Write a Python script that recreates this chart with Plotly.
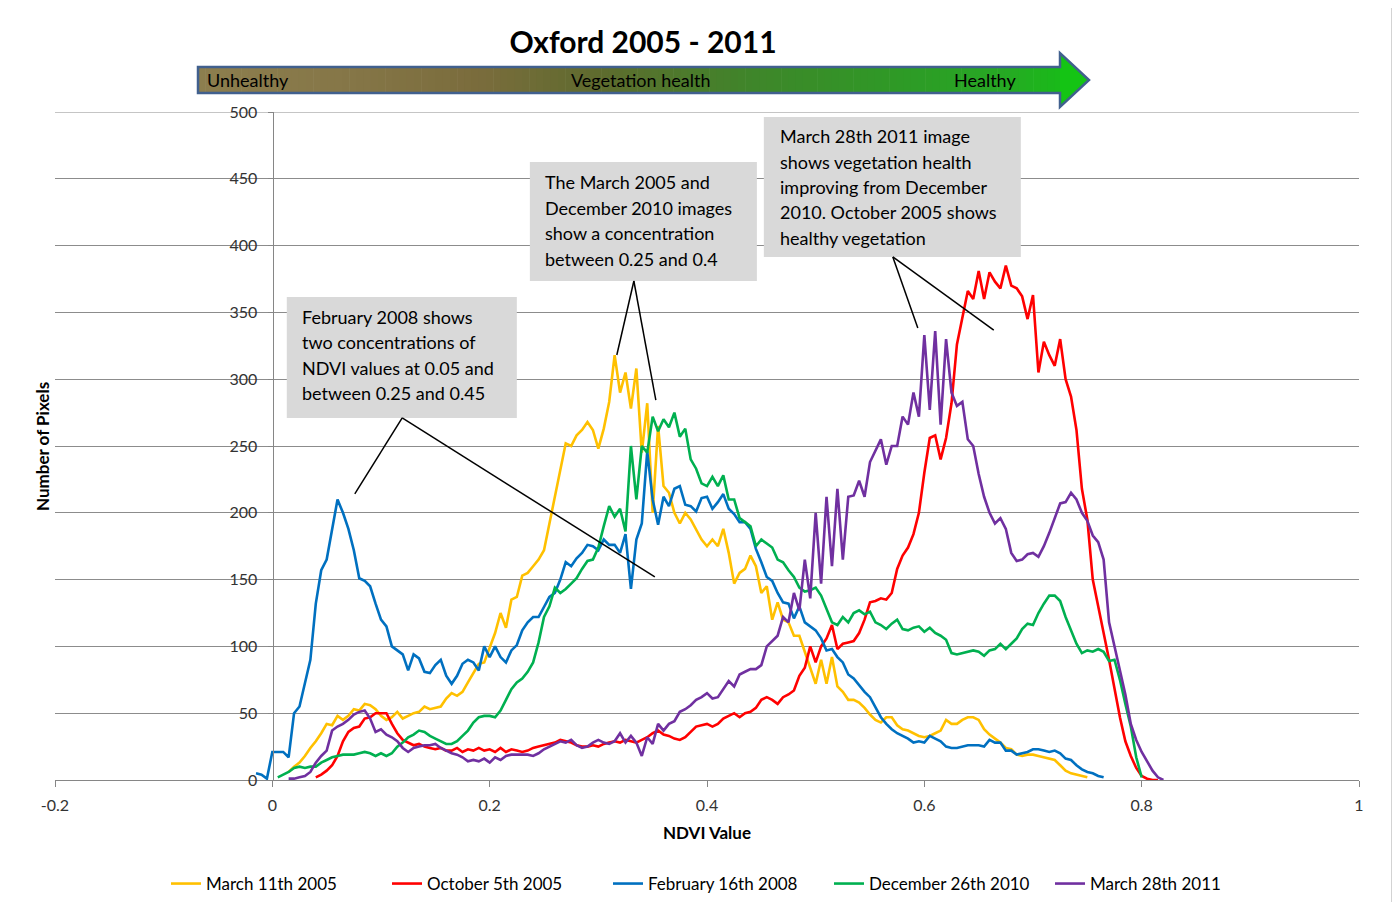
import numpy as np
import plotly.graph_objects as go

STEP = 0.005

# ---------------- data (NDVI histogram counts) ----------------
series_names = ["March 11th 2005", "October 5th 2005", "February 16th 2008",
                "December 26th 2010", "March 28th 2011"]
series_colors = ["#FFC000", "#FF0000", "#0070C0", "#00B050", "#7030A0"]
series_start = [0.015, 0.04, -0.015, 0.005, 0.015]

march_2005 = [6, 10, 13, 18, 24, 29, 35, 42, 41, 48, 45, 48, 53, 52, 57, 56, 53, 48, 45, 47,
              51, 46, 48, 50, 51, 55, 53, 54, 55, 61, 65, 63, 66, 73, 80, 87, 88, 99, 110, 125,
              114, 135, 137, 153, 155, 160, 165, 172, 192, 212, 232, 252, 250, 258, 262, 268, 262, 248, 263, 283,
              318, 290, 305, 278, 308, 245, 282, 200, 265, 220, 215, 200, 192, 200, 195, 187, 180, 175, 180, 175,
              188, 170, 147, 155, 158, 168, 160, 140, 145, 120, 133, 120, 118, 108, 108, 96, 84, 72, 90, 72,
              92, 70, 66, 60, 60, 58, 54, 49, 45, 43, 47, 47, 41, 38, 37, 35, 33, 32, 33, 35,
              37, 45, 42, 42, 45, 47, 47, 45, 38, 34, 31, 28, 24, 23, 19, 18, 19, 19, 18, 17,
              16, 15, 11, 7, 5, 4, 3, 2]

october_2005 = [2, 4, 7, 11, 18, 29, 36, 39, 40, 46, 47, 50, 50, 50, 42, 35, 30, 28, 26, 27,
                25, 24, 23, 24, 22, 22, 24, 21, 23, 22, 24, 22, 23, 21, 24, 21, 23, 22, 21, 22,
                24, 25, 26, 27, 28, 30, 29, 28, 26, 25, 25, 26, 25, 27, 28, 29, 28, 30, 29, 28,
                30, 32, 35, 37, 34, 33, 31, 30, 32, 36, 40, 41, 42, 40, 42, 46, 48, 50, 47, 50,
                51, 54, 60, 62, 60, 57, 62, 64, 67, 78, 84, 100, 88, 100, 106, 116, 98, 102, 103, 104,
                110, 120, 133, 134, 136, 135, 140, 158, 168, 174, 184, 200, 230, 256, 258, 240, 256, 282, 326, 345,
                366, 360, 381, 360, 380, 373, 368, 385, 370, 368, 362, 345, 363, 305, 328, 318, 310, 330, 300, 287,
                262, 218, 195, 150, 131, 110, 90, 68, 47, 29, 18, 9, 3, 1, 0, 0]

february_2008 = [5, 4, 1, 21, 21, 21, 17, 50, 55, 72, 90, 132, 157, 165, 187, 210, 200, 188, 172, 151,
                 149, 145, 132, 120, 115, 100, 97, 94, 82, 94, 91, 81, 80, 86, 90, 78, 72, 78, 87, 90,
                 88, 82, 100, 92, 100, 92, 88, 97, 101, 112, 118, 122, 122, 130, 137, 140, 150, 163, 160, 166,
                 170, 176, 175, 172, 180, 176, 176, 170, 184, 143, 180, 192, 246, 210, 191, 212, 205, 218, 220, 206,
                 205, 201, 211, 212, 203, 208, 214, 203, 199, 193, 193, 188, 173, 163, 152, 149, 140, 133, 132, 121,
                 130, 118, 115, 112, 106, 97, 98, 92, 88, 79, 76, 71, 66, 62, 55, 47, 42, 38, 35, 33,
                 31, 28, 29, 28, 33, 31, 29, 25, 24, 24, 25, 26, 26, 26, 25, 30, 28, 28, 22, 22,
                 19, 20, 21, 23, 23, 22, 21, 22, 20, 16, 15, 11, 8, 6, 5, 3, 2]

december_2010 = [2, 4, 6, 9, 10, 9, 10, 10, 13, 15, 17, 18, 19, 19, 19, 20, 21, 20, 18, 20,
                 18, 20, 25, 28, 32, 34, 37, 36, 33, 31, 29, 27, 27, 29, 33, 37, 43, 47, 48, 48,
                 47, 52, 60, 68, 73, 76, 81, 88, 103, 122, 130, 144, 140, 143, 147, 151, 158, 164, 165, 174,
                 190, 205, 197, 203, 186, 250, 210, 250, 245, 272, 261, 270, 264, 275, 257, 263, 240, 233, 222, 220,
                 227, 220, 228, 210, 210, 196, 193, 190, 175, 180, 177, 174, 165, 163, 157, 152, 144, 141, 142, 144,
                 138, 128, 118, 116, 122, 118, 125, 127, 124, 126, 118, 116, 113, 117, 120, 113, 112, 114, 115, 111,
                 114, 110, 108, 105, 95, 94, 95, 96, 97, 96, 93, 97, 98, 102, 98, 102, 106, 113, 117, 116,
                 125, 132, 138, 138, 134, 122, 112, 102, 95, 97, 96, 98, 96, 89, 90, 75, 57, 40, 17, 2]

march_2011 = [1, 1, 2, 3, 6, 13, 18, 22, 37, 40, 42, 45, 49, 51, 52, 46, 36, 38, 34, 32,
              29, 24, 21, 24, 25, 26, 26, 27, 24, 22, 20, 19, 17, 14, 15, 14, 16, 13, 17, 15,
              18, 19, 19, 19, 19, 18, 20, 23, 25, 27, 29, 28, 30, 26, 24, 25, 28, 30, 28, 27,
              29, 35, 28, 33, 28, 18, 32, 27, 42, 37, 42, 44, 51, 53, 56, 60, 62, 65, 61, 62,
              68, 74, 70, 79, 81, 83, 83, 86, 100, 104, 108, 122, 118, 140, 127, 165, 136, 200, 147, 212,
              160, 218, 165, 212, 213, 224, 212, 238, 247, 255, 236, 250, 250, 272, 266, 290, 272, 333, 277, 336,
              266, 330, 290, 280, 283, 255, 250, 229, 212, 200, 192, 196, 188, 170, 164, 165, 169, 170, 167, 175,
              185, 196, 207, 208, 215, 210, 200, 194, 183, 178, 165, 118, 100, 84, 64, 42, 30, 21, 14, 7,
              2, 0]

series_values = [march_2005, october_2005, february_2008, december_2010, march_2011]

x_ticks = [-0.2, 0, 0.2, 0.4, 0.6, 0.8, 1]
x_tick_text = ["-0.2", "0", "0.2", "0.4", "0.6", "0.8", "1"]
y_ticks = [0, 50, 100, 150, 200, 250, 300, 350, 400, 450, 500]

callout_texts = [
    ["February 2008 shows", "two concentrations of", "NDVI values at 0.05 and", "between 0.25 and 0.45"],
    ["The March 2005 and", "December 2010 images", "show a concentration", "between 0.25 and 0.4"],
    ["March 28th 2011 image", "shows vegetation health", "improving from December",
     "2010. October 2005 shows", "healthy vegetation"],
]

# ---------------- layout geometry ----------------
# Page pixel positions (1400x910 window); the page body has an 8px margin,
# so the figure itself is offset by OFF.
OFF = 8
W, H = 1400 - 2 * OFF, 910 - 2 * OFF
PL, PR, PT, PB = 55, 1359, 112, 780      # plot area in page pixels
FONT = "Lato, 'Open Sans', sans-serif"


def px_x(px):
    return (px - PL) / (PR - PL)


def px_y(py):
    return (PB - py) / (PB - PT)


fig = go.Figure()
for name, color, start, vals in zip(series_names, series_colors, series_start, series_values):
    xs = np.round(start + STEP * np.arange(len(vals)), 4)
    fig.add_trace(go.Scatter(x=xs, y=vals, mode="lines", name=name,
                             line=dict(color=color, width=2.6), hoverinfo="x+y+name"))

shapes = []
annotations = []

# outer chart frame (left, top, right edges)
frame_path = "M %f,%f L %f,%f L %f,%f L %f,%f" % (px_x(5), px_y(902), px_x(5), px_y(7),
                                                  px_x(1392), px_y(7), px_x(1392), px_y(902))
shapes.append(dict(type="path", xref="paper", yref="paper", path=frame_path,
                   line=dict(color="#A6A6A6", width=1), layer="below"))

# top gridline (at the range edge)
shapes.append(dict(type="line", xref="paper", yref="y", x0=0, x1=1, y0=500, y1=500,
                   line=dict(color="#8C8C8C", width=1), layer="below"))

# gradient arrow "Vegetation health"
stops = [(198, (140, 126, 78)), (350, (133, 118, 71)), (480, (122, 108, 60)), (600, (94, 107, 46)),
         (750, (63, 133, 42)), (900, (46, 154, 38)), (1000, (39, 168, 36)), (1062, (25, 186, 25))]
body_l, body_r, body_t, body_b = 198, 1062, 67, 93
n_slices = 120
edges = np.linspace(body_l, body_r, n_slices + 1)
sx = [s[0] for s in stops]
for i in range(n_slices):
    xm = 0.5 * (edges[i] + edges[i + 1])
    rgb = [int(round(np.interp(xm, sx, [s[1][k] for s in stops]))) for k in range(3)]
    shapes.append(dict(type="rect", xref="paper", yref="paper",
                       x0=px_x(edges[i]), x1=px_x(edges[i + 1] + 0.6),
                       y0=px_y(body_b), y1=px_y(body_t),
                       line=dict(width=0), fillcolor="rgb(%d,%d,%d)" % tuple(rgb)))
head = [(1060, 53), (1089, 80), (1060, 107)]
shapes.append(dict(type="path", xref="paper", yref="paper",
                   path="M %f,%f L %f,%f L %f,%f Z" % (px_x(head[0][0]), px_y(head[0][1]),
                                                       px_x(head[1][0]), px_y(head[1][1]),
                                                       px_x(head[2][0]), px_y(head[2][1])),
                   fillcolor="#14C414", line=dict(width=0)))
outline = [(body_l, body_t), (1060, body_t), (1060, 53), (1089, 80), (1060, 107),
           (1060, body_b), (body_l, body_b)]
path = "M " + " L ".join("%f,%f" % (px_x(a), px_y(b)) for a, b in outline) + " Z"
shapes.append(dict(type="path", xref="paper", yref="paper", path=path,
                   line=dict(color="#41608E", width=2.5), fillcolor="rgba(0,0,0,0)"))

for txt, xp, anchor in [("Unhealthy", 205, "left"), ("Vegetation health", 640, "center"),
                        ("Healthy", 985, "center")]:
    annotations.append(dict(text=txt, xref="paper", yref="paper", x=px_x(xp), y=px_y(80),
                            xanchor=anchor, yanchor="middle", showarrow=False,
                            font=dict(family=FONT, size=18, color="#000000")))

# callout boxes (data coordinates)
boxes = [(0.0133, 0.2250, 271, 361.5), (0.2370, 0.4459, 373.5, 462.6), (0.4523, 0.6888, 391.5, 496.3)]
text_left = [0.0253, 0.2489, 0.4652]
text_rows = [[346.6, 327.8, 308.4, 289.7], [447.6, 428.1, 409.4, 390.0],
             [482.0, 462.6, 443.9, 425.1, 405.7]]
for (x0, x1, y0, y1) in boxes:
    shapes.append(dict(type="rect", xref="x", yref="y", x0=x0, x1=x1, y0=y0, y1=y1,
                       fillcolor="#D9D9D9", line=dict(width=0), layer="above"))
for lines, xl, rows in zip(callout_texts, text_left, text_rows):
    for t, yy in zip(lines, rows):
        annotations.append(dict(text=t, xref="x", yref="y", x=xl, y=yy, xanchor="left",
                                yanchor="middle", showarrow=False,
                                font=dict(family=FONT, size=18, color="#000000")))

pointers = [((0.1195, 271), (0.0759, 214.1)), ((0.1195, 271), (0.3520, 152)),
            ((0.3327, 373.5), (0.3170, 318.1)), ((0.3327, 373.5), (0.3529, 284.4)),
            ((0.5710, 391.5), (0.5940, 338.3)), ((0.5710, 391.5), (0.6639, 336.8))]
for (a, b) in pointers:
    shapes.append(dict(type="line", xref="x", yref="y", x0=a[0], y0=a[1], x1=b[0], y1=b[1],
                       line=dict(color="#000000", width=1.5), layer="above"))

# axis titles
annotations.append(dict(text="<b>Number of Pixels</b>", xref="paper", yref="paper",
                        x=px_x(42), y=px_y(447), textangle=-90, showarrow=False,
                        xanchor="center", yanchor="middle",
                        font=dict(family=FONT, size=17, color="#000000")))
annotations.append(dict(text="<b>NDVI Value</b>", xref="paper", yref="paper",
                        x=px_x(707), y=px_y(832), showarrow=False,
                        xanchor="center", yanchor="middle",
                        font=dict(family=FONT, size=17, color="#000000")))

fig.update_layout(
    width=W, height=H,
    margin=dict(l=PL - OFF, r=W - (PR - OFF), t=PT - OFF, b=H - (PB - OFF), autoexpand=False),
    paper_bgcolor="white", plot_bgcolor="white",
    title=dict(text="<b>Oxford 2005 - 2011</b>", x=(643 - OFF) / W, y=1 - (42 - OFF) / H,
               xanchor="center", yanchor="middle",
               font=dict(family=FONT, size=30, color="#000000")),
    font=dict(family=FONT, color="#333333"),
    xaxis=dict(range=[-0.2, 1], tickvals=x_ticks, ticktext=x_tick_text, showgrid=False,
               zeroline=False, showline=True, linecolor="#868686", linewidth=1,
               ticks="outside", ticklen=6, tickcolor="#868686", ticklabelstandoff=5,
               tickfont=dict(family=FONT, size=16, color="#333333")),
    yaxis=dict(range=[0, 500], tickvals=y_ticks, showgrid=True, gridcolor="#8C8C8C", gridwidth=1,
               zeroline=False, showline=True, linecolor="#868686", linewidth=1,
               anchor="free", position=px_x(272.5), automargin=False,
               ticks="outside", ticklen=5, tickcolor="#868686", ticklabelstandoff=7,
               tickfont=dict(family=FONT, size=16, color="#333333")),
    legend=dict(orientation="h", x=px_x(166), y=px_y(884), xanchor="left", yanchor="middle",
                entrywidth=176, font=dict(family=FONT, size=17, color="#000000"),
                bgcolor="rgba(0,0,0,0)"),
    shapes=shapes, annotations=annotations,
)

fig.write_html("out.html")
